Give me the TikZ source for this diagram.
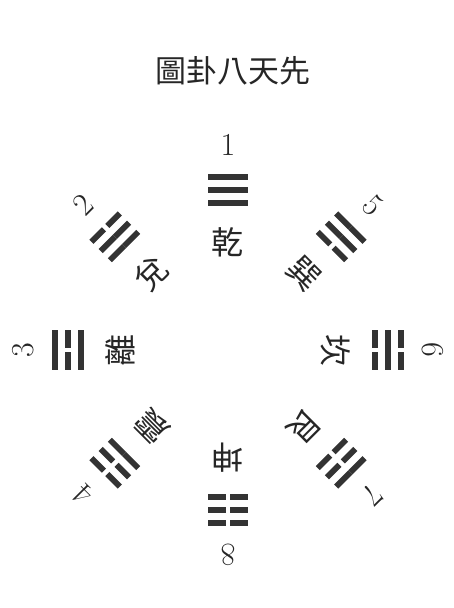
\documentclass[tikz,border=0pt]{standalone}
\usepackage{fontspec}
\newfontfamily\cjk{Noto Sans CJK TC}
\begin{document}
\begin{tikzpicture}[x=1pt,y=1pt,
        numlabel/.style={font=\fontsize{32}{32}\selectfont,text=black!85,inner sep=0pt},
        gualabel/.style={font=\cjk\fontsize{32}{32}\selectfont,text=black!85,inner sep=0pt},
        yao/.style={black!80}]
        \useasboundingbox(-228,-258)rectangle(226,350);
        \node[font=\cjk\fontsize{31}{31}\selectfont,text=black!85,inner sep=0pt](title)at(5,279){圖卦八天先};
        % angle / number / name / lines from the inside out
        \foreach \ang/\idx/\name/\a/\b/\c in {90/1/乾/1/1/1,135/2/兌/1/1/0,180/3/離/1/0/1,225/4/震/1/0/0,
                270/8/坤/0/0/0,315/7/艮/0/0/1,0/6/坎/0/1/0,45/5/巽/0/1/1}
            {
                \node[numlabel,rotate=\ang-90](n\idx)at(\ang:205){\idx};
                \node[gualabel,rotate=\ang-90](g\idx)at(\ang:108){\name};
                \begin{scope}[shift={(\ang:160)},rotate=\ang-90]
                    \foreach \y/\bit in {-13/\a,0/\b,13/\c}
                        {
                            \fill[yao](-20,\y-2.9)rectangle({-2.4*(1-\bit)},\y+2.9);
                            \fill[yao]({2.4*(1-\bit)},\y-2.9)rectangle(20,\y+2.9);
                        }
                \end{scope}
            }
    \end{tikzpicture}
\end{document}
